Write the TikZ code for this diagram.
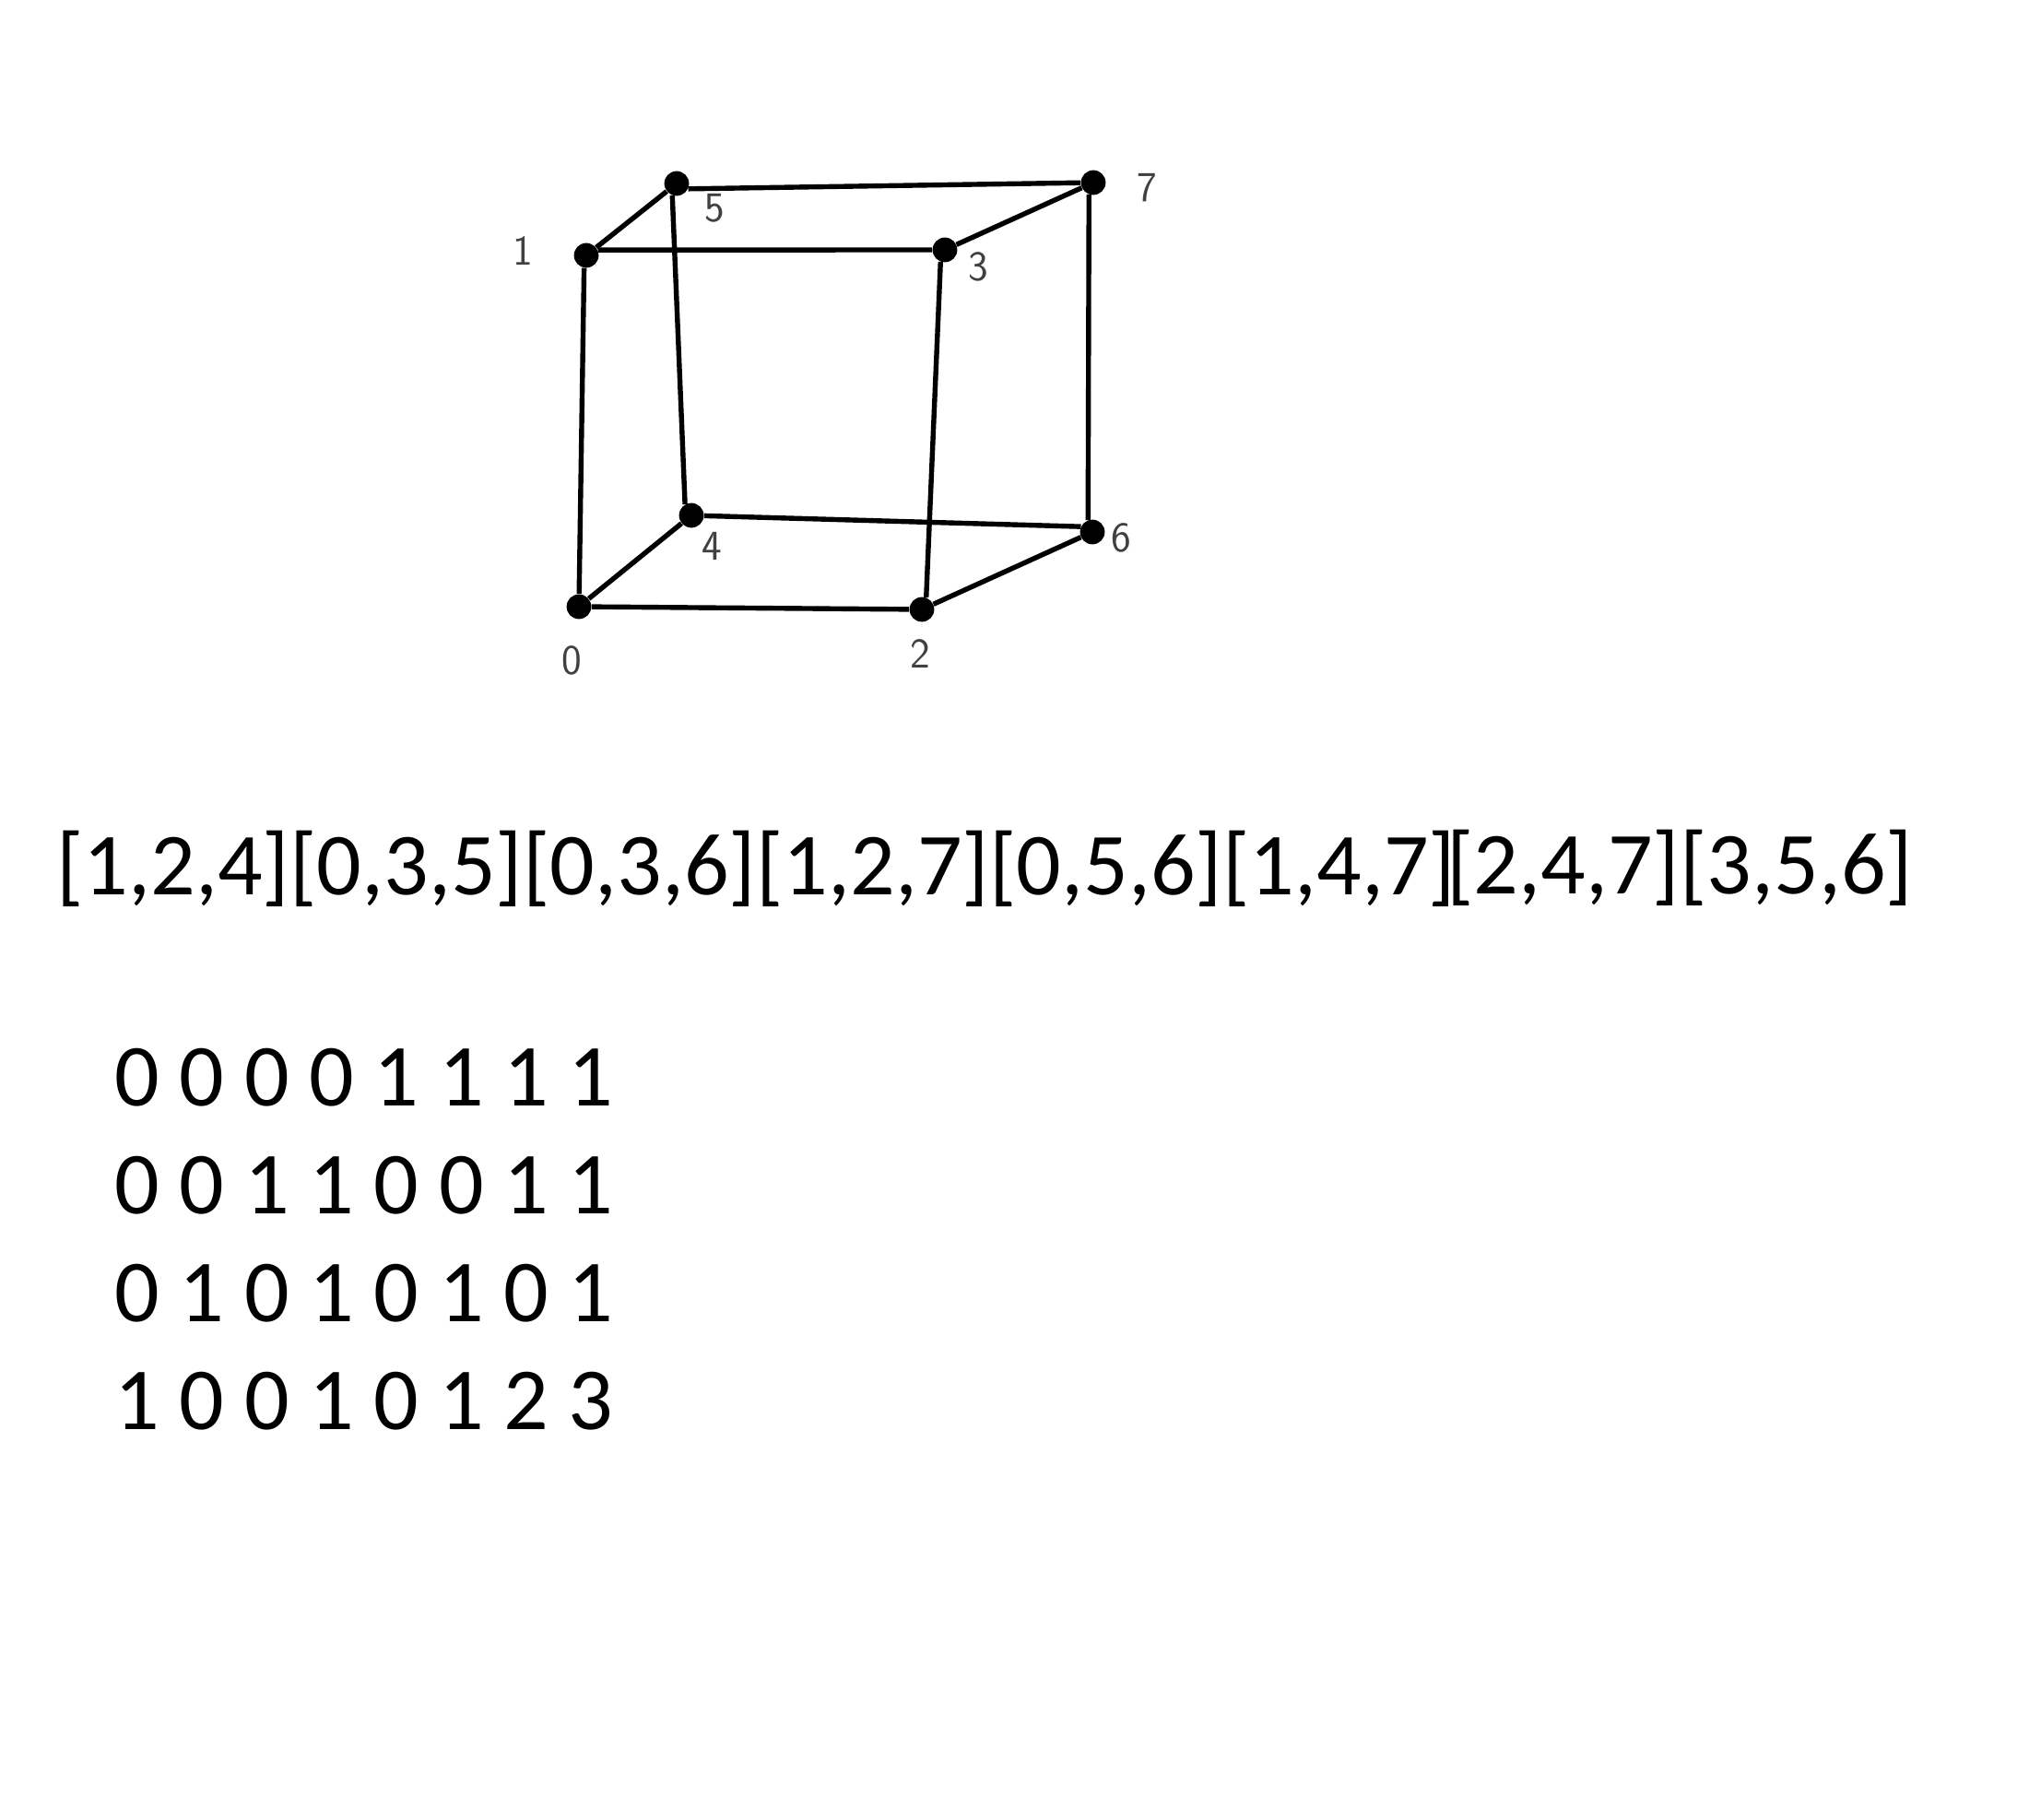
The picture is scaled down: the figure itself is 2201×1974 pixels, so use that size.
\documentclass[tikz,border=0pt]{standalone}
\usepackage{fontspec}
\usepackage{tikz}
\setmainfont{Carlito}
\begin{document}
\begin{tikzpicture}[x=0.5pt, y=-0.5pt, vertex/.style={circle, fill=black, inner sep=0pt, minimum size=13.4pt}, edge/.style={draw, line width=2.7pt}, hand/.style={font=\sffamily\fontsize{23}{23}\selectfont, text=black!75, inner sep=0pt}, row/.style={font=\fontsize{48}{58}\selectfont, anchor=base west, inner sep=0pt}]
\useasboundingbox (0,0) rectangle (2201,1974);
  \node[vertex] (v0) at (628,658) {};
  \node[vertex] (v1) at (636,277) {};
  \node[vertex] (v2) at (1000,661) {};
  \node[vertex] (v3) at (1025,271) {};
  \node[vertex] (v4) at (750,559) {};
  \node[vertex] (v5) at (734,199) {};
  \node[vertex] (v6) at (1185,577) {};
  \node[vertex] (v7) at (1186,198) {};
  \foreach \a/\b in {v0/v1.260,v0/v2,v0/v4,v1.25/v3,v1/v5,v2.70/v3.250,v2/v6,v3/v7,v4.120/v5.250,v4/v6.155,v5.335/v7,v6.110/v7.250}
    \draw[edge] (\a) -- (\b);
  \node[hand] (l0) at (620,716) {0};
  \node[hand] (l1) at (567,272) {1};
  \node[hand] (l2) at (998,709) {2};
  \node[hand] (l3) at (1061,289) {3};
  \node[hand] (l4) at (772,592) {4};
  \node[hand] (l5) at (775,226) {5};
  \node[hand] (l6) at (1216,583) {6};
  \node[hand] (l7) at (1244,204) {7};
  \node[row] (lists1) at (61,970) {[1,2,4][0,3,5][0,3,6][1,2,7][0,5,6][1,4,7]};
  \node[row] (lists2) at (1569,969) {[2,4,7][3,5,6]};
  \node[row] (bits0) at (124,1199) {0 0 0 0 1 1 1 1};
  \node[row] (bits1) at (124,1316) {0 0 1 1 0 0 1 1};
  \node[row] (bits2) at (124,1433) {0 1 0 1 0 1 0 1};
  \node[row] (bits3) at (124,1550) {1 0 0 1 0 1 2 3};
\end{tikzpicture}
\end{document}
